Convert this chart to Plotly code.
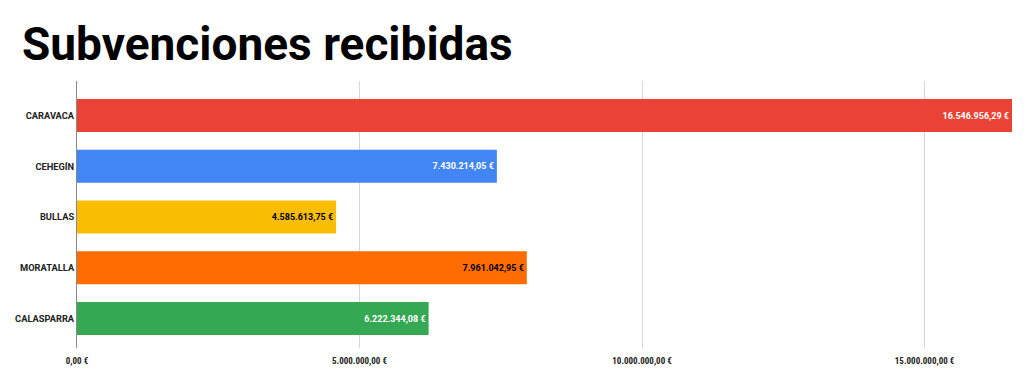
import plotly.graph_objects as go

municipios = ["CARAVACA", "CEHEGÍN", "BULLAS", "MORATALLA", "CALASPARRA"]
subvenciones = [16546956.29, 7430214.05, 4585613.75, 7961042.95, 6222344.08]
colores = ["#EA4335", "#4285F4", "#FBBC04", "#FF6D01", "#34A853"]
color_texto = ["#FFFFFF", "#FFFFFF", "#000000", "#000000", "#FFFFFF"]
tick_vals = [0, 5000000, 10000000, 15000000]


def fmt_eur(v):
    s = f"{v:,.2f}"
    s = s.replace(",", "X").replace(".", ",").replace("X", ".")
    return s + " €"


etiquetas = [fmt_eur(v) for v in subvenciones]
tick_text = [fmt_eur(v) for v in tick_vals]

fig = go.Figure(
    go.Bar(
        x=subvenciones,
        y=municipios,
        orientation="h",
        marker=dict(color=colores, line=dict(width=0)),
        text=etiquetas,
        textposition="inside",
        insidetextanchor="end",
        textangle=0,
        textfont=dict(family="Roboto", size=9, color=color_texto, weight="bold"),
        cliponaxis=False,
        hoverinfo="skip",
    )
)

fig.update_layout(
    width=1024,
    height=378,
    margin=dict(l=77, r=12, t=81, b=30),
    paper_bgcolor="white",
    plot_bgcolor="white",
    bargap=0.35,
    showlegend=False,
    uniformtext=dict(minsize=9, mode="show"),
    title=dict(
        text="<b>Subvenciones recibidas</b>",
        font=dict(family="Roboto", size=46, color="#000000"),
        x=22 / 1024,
        xanchor="left",
        xref="container",
        y=1 - 28 / 378,
        yanchor="top",
        yref="container",
    ),
)

fig.update_xaxes(
    range=[0, 16546956.29],
    tickvals=tick_vals,
    ticktext=tick_text,
    showgrid=True,
    gridcolor="#D6D6D6",
    gridwidth=1,
    zeroline=False,
    showline=False,
    ticks="",
    tickfont=dict(family="Roboto Condensed, Liberation Sans Narrow, Roboto", size=9, color="#222222", weight="bold"),
    ticklabelstandoff=6,
)

fig.update_yaxes(
    type="category",
    categoryorder="array",
    categoryarray=municipios,
    range=[4.58, -0.68],
    showgrid=False,
    zeroline=False,
    showline=True,
    linecolor="#8A8A8A",
    linewidth=1,
    ticks="",
    ticklabelstandoff=0,
    tickfont=dict(family="Roboto", size=9.3, color="#222222", weight="bold"),
)

fig.write_html("out.html")
